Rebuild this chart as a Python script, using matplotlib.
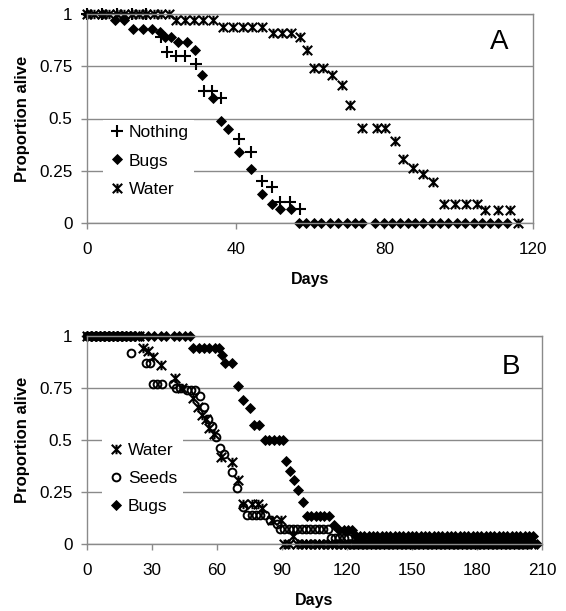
import matplotlib
matplotlib.use("Agg")
import matplotlib.pyplot as plt
from matplotlib.path import Path

plt.rcParams['font.family'] = ['Liberation Sans', 'DejaVu Sans']

# ---------------- Panel A data ----------------
nothing_A_days = [0, 4, 8, 12, 16, 20, 21.6, 24, 26.5, 29.3, 31.5, 33.5, 36, 41, 44, 47, 49.7, 52, 54.6, 57.3]
nothing_A_prop = [1, 1, 1, 1, 1, 0.89, 0.82, 0.80, 0.80, 0.76, 0.63, 0.63, 0.60, 0.40, 0.34, 0.20, 0.17, 0.10, 0.10, 0.065]

bugs_A_days = [0, 4, 7.5, 10, 12.5, 15, 17.5, 19.6, 21, 22.5,
               24.5, 27, 29, 31, 34, 36, 38, 41, 44, 47,
               49.7, 52, 54.8,
               57, 59, 61, 63, 65.4, 67.6, 69.9, 72, 74, 77.5,
               79.8, 82, 84.2, 86.3, 88.2, 90.5, 92.7, 95, 97.2, 99.5,
               101.7, 104, 106.2, 108.5, 110.7, 113]
bugs_A_prop = [1, 1, 0.97, 0.97, 0.93, 0.93, 0.93, 0.915, 0.89, 0.89,
               0.865, 0.865, 0.83, 0.71, 0.60, 0.49, 0.45, 0.34, 0.26, 0.14,
               0.09, 0.065, 0.065,
               0, 0, 0, 0, 0, 0, 0, 0, 0, 0,
               0, 0, 0, 0, 0, 0, 0, 0, 0, 0,
               0, 0, 0, 0, 0, 0]

water_A_days = [0, 2, 4, 6, 8, 10, 12, 14, 16, 18,
                20, 22, 24, 26.4, 28.9, 31.2, 34, 36.5, 39.3, 42,
                44.5, 47, 50, 52.5, 55, 57.3, 59.2, 61, 63.5, 66,
                68.6, 70.8, 74, 78, 80.2, 83, 85, 87.7, 90.3, 93,
                96, 99, 102, 105, 107, 110.5, 113.8, 116]
water_A_prop = [1, 1, 1, 1, 1, 1, 1, 1, 1, 1,
                1, 1, 0.97, 0.97, 0.97, 0.97, 0.97, 0.94, 0.94, 0.94,
                0.94, 0.94, 0.91, 0.91, 0.91, 0.89, 0.83, 0.74, 0.74, 0.71,
                0.66, 0.565, 0.455, 0.455, 0.455, 0.394, 0.306, 0.263, 0.234, 0.198,
                0.09, 0.09, 0.09, 0.09, 0.062, 0.062, 0.062, 0]

# ---------------- Panel B data ----------------
water_B_days = [0, 2, 4, 6, 8, 10, 12, 14, 16, 18,
                20, 22, 24, 26, 28, 30.5, 34, 40.5, 44, 49,
                51, 53, 55, 56.5, 58.5, 62, 67, 69.8, 72, 76,
                79, 80.6, 85.5, 89.5, 95,
                91, 93, 97, 99, 101, 103, 105, 107, 109, 111,
                113, 115, 117, 119, 121, 123, 125, 127, 129, 131,
                133, 135, 137, 139, 141, 143, 145, 147, 149, 151,
                153, 155, 157, 159, 161, 163, 165, 167, 169, 171,
                173, 175, 177, 179, 181, 183, 185, 187, 189, 191,
                193, 195, 197, 199, 201, 203, 205]
water_B_prop = [1, 1, 1, 1, 1, 1, 1, 1, 1, 1,
                1, 1, 1, 0.94, 0.93, 0.90, 0.86, 0.80, 0.75, 0.70,
                0.66, 0.62, 0.60, 0.56, 0.53, 0.42, 0.396, 0.308, 0.19, 0.19,
                0.19, 0.175, 0.115, 0.115, 0.04,
                0, 0, 0, 0, 0, 0, 0, 0, 0, 0,
                0, 0, 0, 0, 0, 0, 0, 0, 0, 0,
                0, 0, 0, 0, 0, 0, 0, 0, 0, 0,
                0, 0, 0, 0, 0, 0, 0, 0, 0, 0,
                0, 0, 0, 0, 0, 0, 0, 0, 0, 0,
                0, 0, 0, 0, 0, 0, 0]

seeds_B_days = [0, 2, 4, 6, 8, 10, 12, 14, 16, 18,
                20.5, 27, 29, 30.5, 32.5, 34.5, 39.5, 41, 43, 46,
                48, 50, 52, 54, 56, 57.5, 59.5, 61.5, 63, 67,
                69.3, 72, 74, 76, 78, 80, 82, 84.5, 87.5, 89,
                91, 93, 95, 97, 99, 101, 103, 105, 107, 109,
                111, 112.5, 114.5, 116.5, 118.5, 120.5,
                122, 124, 126, 128, 130, 132, 134, 136, 138, 140,
                142, 144, 146, 148, 150, 152, 154, 156, 158, 160,
                162, 164, 166, 168, 170, 172, 174, 176, 178, 180,
                182, 184, 186, 188, 190, 192, 194, 196, 198, 200,
                202, 204]
seeds_B_prop = [1, 1, 1, 1, 1, 1, 1, 1, 1, 1,
                0.92, 0.87, 0.87, 0.77, 0.77, 0.77, 0.77, 0.75, 0.75, 0.74,
                0.74, 0.74, 0.71, 0.66, 0.60, 0.567, 0.516, 0.46, 0.435, 0.348,
                0.268, 0.176, 0.14, 0.14, 0.14, 0.14, 0.14, 0.115, 0.095, 0.07,
                0.07, 0.07, 0.07, 0.07, 0.07, 0.07, 0.07, 0.07, 0.07, 0.07,
                0.07, 0.03, 0.03, 0.03, 0.03, 0.03,
                0, 0, 0, 0, 0, 0, 0, 0, 0, 0,
                0, 0, 0, 0, 0, 0, 0, 0, 0, 0,
                0, 0, 0, 0, 0, 0, 0, 0, 0, 0,
                0, 0, 0, 0, 0, 0, 0, 0, 0, 0,
                0, 0]

bugs_B_days = [0, 2, 4, 6, 8, 10, 12, 14, 16, 18,
               20, 22, 25, 28, 31, 34, 36.5, 40, 42.5, 45,
               47.5, 49, 51.5, 54, 56.5, 59, 61, 62.3, 63.5, 67,
               69.5, 72, 75, 77, 79.5, 82, 84, 86.5, 88.5, 90.5,
               92, 93.7, 95.5, 97.5, 99.5, 101.5, 103.5, 105.5, 107.5, 109.5,
               111.5, 114, 116.5, 118.5, 120.5, 122.5,
               124, 126, 128, 130, 132, 134, 136, 138, 140, 142,
               144, 146, 148, 150, 152, 154, 156, 158, 160, 162,
               164, 166, 168, 170, 172, 174, 176, 178, 180, 182,
               184, 186, 188, 190, 192, 194, 196, 198, 200, 202,
               204, 206, 207.5]
bugs_B_prop = [1, 1, 1, 1, 1, 1, 1, 1, 1, 1,
               1, 1, 1, 1, 1, 1, 1, 1, 1, 1,
               1, 0.94, 0.94, 0.94, 0.94, 0.94, 0.94, 0.91, 0.87, 0.87,
               0.76, 0.69, 0.655, 0.57, 0.57, 0.50, 0.50, 0.50, 0.50, 0.50,
               0.40, 0.35, 0.31, 0.26, 0.20, 0.135, 0.135, 0.135, 0.135, 0.135,
               0.135, 0.09, 0.067, 0.067, 0.067, 0.067,
               0.037, 0.037, 0.037, 0.037, 0.037, 0.037, 0.037, 0.037, 0.037, 0.037,
               0.037, 0.037, 0.037, 0.037, 0.037, 0.037, 0.037, 0.037, 0.037, 0.037,
               0.037, 0.037, 0.037, 0.037, 0.037, 0.037, 0.037, 0.037, 0.037, 0.037,
               0.037, 0.037, 0.037, 0.037, 0.037, 0.037, 0.037, 0.037, 0.037, 0.037,
               0.037, 0.037, 0]

xticks_A = [0, 40, 80, 120]
xticks_B = [0, 30, 60, 90, 120, 150, 180, 210]
yticks = [0, 0.25, 0.5, 0.75, 1]
ytick_labels = ['0', '0.25', '0.5', '0.75', '1']

# Excel-like star marker: X plus vertical bar
star = Path([(0, -1), (0, 1), (-1, -1), (1, 1), (-1, 1), (1, -1)],
            [Path.MOVETO, Path.LINETO, Path.MOVETO, Path.LINETO, Path.MOVETO, Path.LINETO])

GRID = '#8a8a8a'
TICK_FS = 12.3
LAB_FS = 11.5

fig = plt.figure(figsize=(5.66, 6.11), dpi=100)
W, H = 566, 611
axA = fig.add_axes([87 / W, 1 - 223 / H, (533 - 87) / W, (223 - 14) / H])
axB = fig.add_axes([87 / W, 1 - 544 / H, (542 - 87) / W, (544 - 336) / H])

common = dict(linestyle='none', color='black', clip_on=False)
PLUS = dict(marker='+', ms=8, mew=1.5)
DIAM = dict(marker='D', ms=5.2, mew=0.6)
STAR = dict(marker=star, ms=6.8, mew=1.5)
CIRC = dict(marker='o', ms=5.6, mew=1.4, mfc='none')

axA.plot(nothing_A_days, nothing_A_prop, label='Nothing', **PLUS, **common)
axA.plot(bugs_A_days, bugs_A_prop, label='Bugs', **DIAM, **common)
axA.plot(water_A_days, water_A_prop, label='Water', **STAR, **common)

axB.plot(water_B_days, water_B_prop, label='Water', **STAR, **common)
axB.plot(seeds_B_days, seeds_B_prop, label='Seeds', **CIRC, **common)
axB.plot(bugs_B_days, bugs_B_prop, label='Bugs', **DIAM, **common)

for ax, xt, xmax in ((axA, xticks_A, 120), (axB, xticks_B, 210)):
    ax.set_xlim(0, xmax)
    ax.set_ylim(0, 1)
    ax.set_xticks(xt)
    ax.set_yticks(yticks)
    ax.set_yticklabels(ytick_labels)
    ax.grid(axis='y', color=GRID, lw=1)
    ax.set_axisbelow(True)
    for s in ax.spines.values():
        s.set_color(GRID)
        s.set_linewidth(1)
    ax.tick_params(direction='out', length=4.5, width=1, color=GRID, labelsize=TICK_FS)
    ax.tick_params(axis='y', pad=6)
    ax.tick_params(axis='x', pad=9)
    ax.set_xlabel('Days', fontsize=LAB_FS, fontweight='bold')
    ax.set_ylabel('Proportion alive', fontsize=12, fontweight='bold')

axA.xaxis.set_label_coords(0.5, -0.235)
axB.xaxis.set_label_coords(0.5, -0.235)
axA.yaxis.set_label_coords(-0.128, 0.5)
axB.yaxis.set_label_coords(-0.125, 0.5)

axA.text(110.8, 0.866, 'A', fontsize=20, ha='center', va='center')
axB.text(195.7, 0.849, 'B', fontsize=20, ha='center', va='center')

for ax, anchor in ((axA, (0.036, 0.297)), (axB, (0.033, 0.315))):
    leg = ax.legend(loc='center left', bbox_to_anchor=anchor, frameon=True, fancybox=False,
                    fontsize=12.5, handlelength=1.0, handletextpad=0.2, labelspacing=0.75,
                    borderpad=0.3, borderaxespad=0, numpoints=1)
    leg.get_frame().set_facecolor('white')
    leg.get_frame().set_edgecolor('none')
    leg.get_frame().set_alpha(1)

fig.savefig('out.png', dpi=100)
